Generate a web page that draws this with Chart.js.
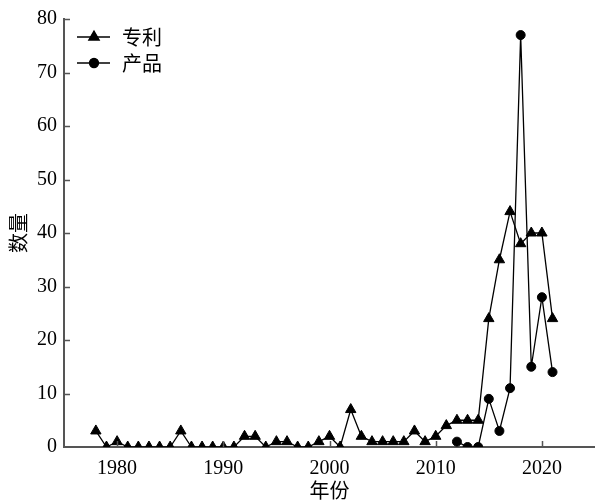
<!DOCTYPE html>
<html>
<head>
<meta charset="utf-8">
<script src="https://cdn.jsdelivr.net/npm/chart.js@4.4.0/dist/chart.umd.min.js"></script>
<style>
  html, body { margin: 0; padding: 0; background: #fff; }
  #wrap { width: 595px; height: 503px; }
</style>
</head>
<body>
<div id="wrap"><canvas id="chart" width="595" height="503"></canvas></div>
<script>
const patentYears = [1978, 1979, 1980, 1981, 1982, 1983, 1984, 1985, 1986, 1987, 1988, 1989, 1990, 1991,
	1992, 1993, 1994, 1995, 1996, 1997, 1998, 1999, 2000, 2001, 2002, 2003, 2004, 2005, 2006, 2007,
	2008, 2009, 2010, 2011, 2012, 2013, 2014, 2015, 2016, 2017, 2018, 2019, 2020, 2021]
const patentCounts = [3, 0, 1, 0, 0, 0, 0, 0, 3, 0, 0, 0, 0, 0,
	2, 2, 0, 1, 1, 0, 0, 1, 2, 0, 7, 2, 1, 1, 1, 1,
	3, 1, 2, 4, 5, 5, 5, 24, 35, 44, 38, 40, 40, 24]

const productYears = [2012, 2013, 2014, 2015, 2016, 2017, 2018, 2019, 2020, 2021]
const productCounts = [1, 0, 0, 9, 3, 11, 77, 15, 28, 14]

const xTicks = [1980, 1990, 2000, 2010, 2020]
const yTicks = [0, 10, 20, 30, 40, 50, 60, 70, 80]

const seriesNames = ['专利', '产品']

const FONT = "'Liberation Serif'"
const CJK = "'Noto Sans CJK SC'"
const AXIS_COLOR = '#555'

function toPoints(xs, ys) {
	return xs.map((x, i) => ({ x: x, y: ys[i] }))
}

// ticks drawn inward, like the original
const inwardTicks = {
	id: 'inwardTicks',
	afterDraw(chart) {
		const ctx = chart.ctx
		const area = chart.chartArea
		const xs = chart.scales.x
		const ys = chart.scales.y
		ctx.save()
		ctx.strokeStyle = AXIS_COLOR
		ctx.lineWidth = 1.5
		ctx.beginPath()
		yTicks.forEach(v => {
			if (v === 0) return
			const py = Math.round(ys.getPixelForValue(v)) + 0.5
			ctx.moveTo(area.left, py)
			ctx.lineTo(area.left + 6, py)
		})
		xTicks.forEach(v => {
			const px = Math.round(xs.getPixelForValue(v)) + 0.5
			ctx.moveTo(px, area.bottom)
			ctx.lineTo(px, area.bottom - 6)
		})
		ctx.stroke()
		ctx.restore()
	}
}

// legend with line + marker
const lineLegend = {
	id: 'lineLegend',
	afterDraw(chart) {
		const ctx = chart.ctx
		ctx.save()
		chart.data.datasets.forEach((ds, i) => {
			const y = 37 + i * 26
			ctx.strokeStyle = '#000'
			ctx.lineWidth = 1.3
			ctx.beginPath()
			ctx.moveTo(77, y)
			ctx.lineTo(110, y)
			ctx.stroke()
			Chart.helpers.drawPoint(ctx, {
				pointStyle: ds.pointStyle,
				radius: ds.pointRadius,
				rotation: 0,
				borderWidth: 1
			}, 94, y)
			ctx.fillStyle = '#000'
			ctx.fill()
			ctx.font = '20px ' + CJK
			ctx.textBaseline = 'middle'
			ctx.fillText(ds.label, 122, y)
		})
		ctx.restore()
	}
}

new Chart(document.getElementById('chart'), {
	type: 'line',
	data: {
		datasets: [
			{
				label: seriesNames[0],
				data: toPoints(patentYears, patentCounts),
				borderColor: '#000',
				backgroundColor: '#000',
				borderWidth: 1.3,
				pointStyle: 'triangle',
				pointRadius: 6,
				pointBorderWidth: 1,
				tension: 0,
			},
			{
				label: seriesNames[1],
				data: toPoints(productYears, productCounts),
				borderColor: '#000',
				backgroundColor: '#000',
				borderWidth: 1.3,
				pointStyle: 'circle',
				pointRadius: 4.5,
				pointBorderWidth: 1,
				tension: 0,
			},
		],
	},
	options: {
		responsive: false,
		animation: false,
		layout: { autoPadding: false, padding: { top: 19, right: 0, left: 0, bottom: 0 } },
		plugins: {
			legend: { display: false },
			tooltip: { enabled: false },
		},
		scales: {
			x: {
				type: 'linear',
				min: 1975,
				max: 2025,
				afterBuildTicks: scale => {
					scale.ticks = xTicks.map(v => ({ value: v }))
				},
				afterFit: scale => { scale.height = 56 },
				grid: { display: false, drawTicks: false },
				border: { display: true, color: AXIS_COLOR, width: 2 },
				ticks: {
					padding: 10,
					color: '#000',
					font: { family: FONT, size: 20 },
					maxRotation: 0,
					callback: v => String(v),
				},
				title: {
					display: true,
					text: '年份',
					color: '#000',
					font: { family: CJK, size: 20, lineHeight: 1.2 },
					padding: { top: 0, bottom: 1 },
				},
			},
			y: {
				min: 0,
				max: 80,
				afterBuildTicks: scale => {
					scale.ticks = yTicks.map(v => ({ value: v }))
				},
				afterFit: scale => { scale.width = 64 },
				grid: { display: false, drawTicks: false },
				border: { display: true, color: AXIS_COLOR, width: 2 },
				ticks: {
					padding: 7,
					color: '#000',
					font: { family: FONT, size: 20 },
					callback: v => String(v),
				},
				title: {
					display: true,
					text: '数量',
					color: '#000',
					font: { family: CJK, size: 20, lineHeight: 1.2 },
					padding: { top: 6, bottom: 0 },
				},
			},
		},
	},
	plugins: [inwardTicks, lineLegend],
})
</script>
</body>
</html>
